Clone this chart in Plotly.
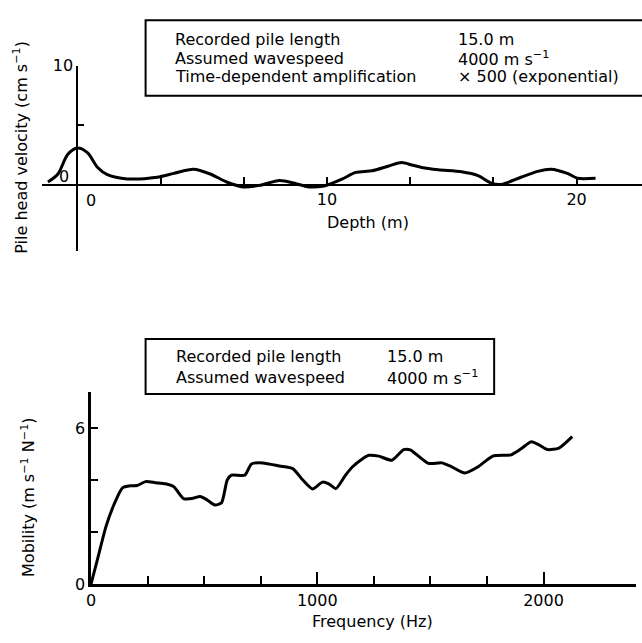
import plotly.graph_objects as go

# ---------------- data ----------------
depth_m = [-1.18, -0.78, -0.39, 0.0, 0.41, 0.81, 1.2, 2.0, 3.19, 3.86, 4.65, 5.32, 5.98,
           6.64, 7.30, 8.10, 8.76, 9.29, 9.82, 10.08, 10.62, 11.15, 11.81, 12.47, 13.0,
           13.4, 13.8, 14.46, 15.39, 16.05, 16.58, 16.98, 17.77, 18.44, 18.97, 19.63,
           20.03, 20.76]
velocity_cms = [0.28, 0.95, 2.57, 3.11, 2.71, 1.49, 0.89, 0.54, 0.68, 1.0, 1.35, 0.95, 0.28,
                -0.13, 0.0, 0.41, 0.14, -0.13, -0.08, 0.08, 0.54, 1.08, 1.22, 1.62, 1.9,
                1.7, 1.49, 1.30, 1.13, 0.81, 0.19, 0.08, 0.68, 1.17, 1.35, 1.0, 0.6, 0.6]

freq_hz = [0, 29, 66, 102, 139, 175, 204, 241, 285, 329, 365, 409, 446, 482, 511, 548, 577,
           602, 621, 680, 709, 760, 833, 892, 936, 979, 1023, 1053, 1082, 1125, 1155, 1199,
           1228, 1272, 1330, 1382, 1411, 1491, 1550, 1594, 1652, 1711, 1776, 1857, 1901,
           1945, 1974, 2018, 2068, 2127]
mobility = [0, 0.97, 2.21, 3.07, 3.70, 3.78, 3.79, 3.94, 3.90, 3.86, 3.75, 3.29, 3.29, 3.37,
            3.25, 3.04, 3.13, 4.00, 4.19, 4.19, 4.62, 4.66, 4.54, 4.44, 4.00, 3.66, 3.92,
            3.84, 3.67, 4.19, 4.50, 4.81, 4.95, 4.92, 4.76, 5.17, 5.16, 4.64, 4.66, 4.51,
            4.27, 4.51, 4.92, 4.97, 5.20, 5.47, 5.38, 5.17, 5.23, 5.67]

top_x_major = [10, 20]
top_x_minor = [10 / 3, 20 / 3, 40 / 3, 50 / 3]
top_y_major = [10]
top_y_minor = [5]
bot_x_major = [0, 1000, 2000]
bot_x_minor = [250, 500, 750, 1250, 1500, 1750]
bot_y_major = [0, 6]
bot_y_minor = [2, 4]

top_box_labels = ["Recorded pile length", "Assumed wavespeed", "Time-dependent amplification"]
top_box_values = ["15.0 m", "4000 m s<sup>−1</sup>", "× 500 (exponential)"]
bot_box_labels = ["Recorded pile length", "Assumed wavespeed"]
bot_box_values = ["15.0 m", "4000 m s<sup>−1</sup>"]

# ---------------- layout helpers ----------------
W, H = 642, 643
FONT = "DejaVu Sans"


def px(p):
    return p / W


def py(p):
    return 1 - p / H


top_xr = [-1.43, 22.62]
top_yr = [-5.45, 10]
top_xdom = [px(37), 1.0]
top_ydom = [py(249), py(58.3)]
bot_xr = [0, 2409]
bot_yr = [0, 7.37]
bot_xdom = [px(86.7), px(636)]
bot_ydom = [py(592.7), py(395)]

# where the top axes cross (x=0, y=0) in paper coordinates
yaxis_pos = top_xdom[0] + (0 - top_xr[0]) / (top_xr[1] - top_xr[0]) * (top_xdom[1] - top_xdom[0])
xaxis_pos = top_ydom[0] + (0 - top_yr[0]) / (top_yr[1] - top_yr[0]) * (top_ydom[1] - top_ydom[0])

fig = go.Figure()
fig.add_trace(go.Scatter(x=depth_m, y=velocity_cms, mode="lines",
                         line=dict(color="black", width=3, shape="spline", smoothing=0.8),
                         xaxis="x", yaxis="y", hoverinfo="skip", showlegend=False))
fig.add_trace(go.Scatter(x=freq_hz, y=mobility, mode="lines",
                         line=dict(color="black", width=3, shape="spline", smoothing=0.6),
                         xaxis="x2", yaxis="y2", hoverinfo="skip", showlegend=False))

tickfont = dict(family=FONT, size=16, color="black")

fig.update_layout(
    width=W, height=H, margin=dict(l=0, r=0, t=0, b=0),
    paper_bgcolor="white", plot_bgcolor="white", showlegend=False,
    xaxis=dict(domain=top_xdom, range=top_xr, anchor="free", position=xaxis_pos,
               showgrid=False, zeroline=False, showline=True, linecolor="black", linewidth=1.5,
               tickmode="array", tickvals=top_x_major, ticktext=[str(v) for v in top_x_major],
               ticks="inside", ticklen=8, tickwidth=1.5, tickcolor="black", tickfont=tickfont,
               minor=dict(tickmode="array", tickvals=top_x_minor, ticks="inside", ticklen=8,
                          tickwidth=1.5, tickcolor="black", showgrid=False)),
    yaxis=dict(domain=top_ydom, range=top_yr, anchor="free", position=yaxis_pos,
               showgrid=False, zeroline=False, showline=True, linecolor="black", linewidth=2,
               tickmode="array", tickvals=top_y_major, ticktext=[str(v) for v in top_y_major],
               ticks="inside", ticklen=6, tickwidth=1.5, tickcolor="black", tickfont=tickfont,
               minor=dict(tickmode="array", tickvals=top_y_minor + [top_yr[0]], ticks="inside",
                          ticklen=6, tickwidth=1.5, tickcolor="black", showgrid=False)),
    xaxis2=dict(domain=bot_xdom, range=bot_xr, anchor="y2",
                showgrid=False, zeroline=False, showline=True, linecolor="black", linewidth=2.5,
                tickmode="array", tickvals=bot_x_major, ticktext=[str(v) for v in bot_x_major],
                ticks="inside", ticklen=12, tickwidth=2, tickcolor="black", tickfont=tickfont,
                minor=dict(tickmode="array", tickvals=bot_x_minor, ticks="inside", ticklen=8,
                           tickwidth=2, tickcolor="black", showgrid=False)),
    yaxis2=dict(domain=bot_ydom, range=bot_yr, anchor="x2",
                showgrid=False, zeroline=False, showline=True, linecolor="black", linewidth=2.5,
                tickmode="array", tickvals=bot_y_major, ticktext=[str(v) for v in bot_y_major],
                ticks="inside", ticklen=7, tickwidth=2, tickcolor="black", tickfont=tickfont,
                minor=dict(tickmode="array", tickvals=bot_y_minor, ticks="inside", ticklen=7,
                           tickwidth=2, tickcolor="black", showgrid=False)),
)

annotations = []
# offset "0" labels of the crossed axes in the top panel
annotations.append(dict(x=0, y=0, xref="x", yref="y", text="0", showarrow=False,
                        xanchor="center", yanchor="top", xshift=14, yshift=-4, font=tickfont))
annotations.append(dict(x=0, y=0, xref="x", yref="y", text="0", showarrow=False,
                        xanchor="right", yanchor="middle", xshift=-6, yshift=9, font=tickfont))
# axis titles
titlefont = dict(family=FONT, size=16, color="black")
annotations.append(dict(x=px(366), y=py(220), xref="paper", yref="paper", text="Depth (m)",
                        showarrow=False, xanchor="center", yanchor="middle", font=titlefont))
annotations.append(dict(x=px(370), y=py(631), xref="paper", yref="paper", text="Frequency (Hz)",
                        showarrow=False, xanchor="center", yanchor="middle", font=titlefont))
annotations.append(dict(x=px(16), y=py(142), xref="paper", yref="paper",
                        text="Pile head velocity (cm s<sup>−1</sup>)", textangle=-90,
                        showarrow=False, xanchor="center", yanchor="middle", font=titlefont))
annotations.append(dict(x=px(23), y=py(503), xref="paper", yref="paper",
                        text="Mobility (m s<sup>−1</sup> N<sup>−1</sup>)", textangle=-90,
                        showarrow=False, xanchor="center", yanchor="middle", font=titlefont))
# info boxes
boxfont = dict(family=FONT, size=16, color="black")
for i, (lab, val) in enumerate(zip(top_box_labels, top_box_values)):
    yy = py(31.5 + 19.2 * i)
    annotations.append(dict(x=px(169), y=yy, xref="paper", yref="paper", text=lab,
                            showarrow=False, xanchor="left", yanchor="middle", font=boxfont))
    annotations.append(dict(x=px(455), y=yy, xref="paper", yref="paper", text=val,
                            showarrow=False, xanchor="left", yanchor="middle", font=boxfont))
for i, (lab, val) in enumerate(zip(bot_box_labels, bot_box_values)):
    yy = py(358 + 22 * i)
    annotations.append(dict(x=px(170), y=yy, xref="paper", yref="paper", text=lab,
                            showarrow=False, xanchor="left", yanchor="middle", font=boxfont))
    annotations.append(dict(x=px(383), y=yy, xref="paper", yref="paper", text=val,
                            showarrow=False, xanchor="left", yanchor="middle", font=boxfont))
fig.update_layout(annotations=annotations)

fig.update_layout(shapes=[
    dict(type="rect", xref="paper", yref="paper", x0=px(141.7), x1=px(660), y0=py(89.3), y1=py(11.7),
         line=dict(color="black", width=2), fillcolor="rgba(0,0,0,0)"),
    dict(type="rect", xref="paper", yref="paper", x0=px(141.7), x1=px(493), y0=py(396.7), y1=py(340),
         line=dict(color="black", width=2), fillcolor="rgba(0,0,0,0)"),
])

fig.write_html("out.html")
